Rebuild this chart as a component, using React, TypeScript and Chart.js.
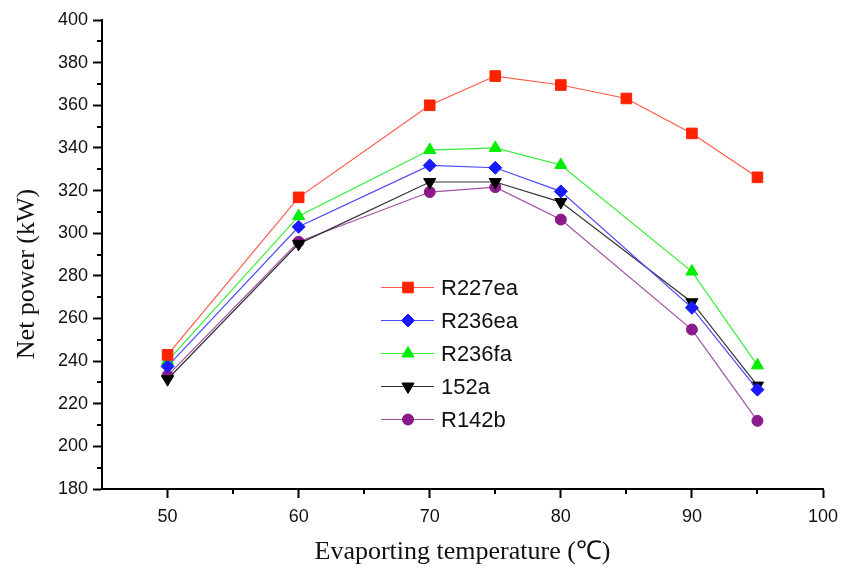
import React, { useEffect, useRef } from "react";
import { Chart, registerables } from "chart.js";
import { drawPoint } from "chart.js/helpers";

Chart.register(...registerables);

const TEMPS = [50, 60, 70, 75, 80, 85, 90, 95];
const TEMPS_OTHERS = [50, 60, 70, 75, 80, 90, 95];

const R227EA = [242.9, 316.8, 360, 373.7, 369.5, 363.2, 346.8, 326.2];
const R236EA = [237.5, 303, 331.8, 330.7, 319.6, 265, 226.6];
const R236FA = [240, 308, 339, 340, 332, 282, 238];
const R152A = [231.5, 295, 324, 324, 314.6, 267.6, 228.5];
const R142B = [233.2, 296, 319.3, 321.6, 306.4, 254.8, 212];

const LABELS = ["R227ea", "R236ea", "R236fa", "152a", "R142b"];
const X_TICKS = [50, 60, 70, 80, 90, 100];
const X_MINOR = [55, 65, 75, 85, 95];
const Y_TICKS = [180, 200, 220, 240, 260, 280, 300, 320, 340, 360, 380, 400];
const Y_MINOR = [190, 210, 230, 250, 270, 290, 310, 330, 350, 370, 390];

const X_TITLE = "Evaporting temperature (\u2103)";
const Y_TITLE = "Net power (kW)";

const SERIF = '"Liberation Serif", "Times New Roman", serif';
const SANS = '"Liberation Sans", Arial, sans-serif';

const pts = (xs: number[], ys: number[]) => xs.map((x, i) => ({ x, y: ys[i] }));

const minorTicks = {
  id: "minorTicks",
  afterDraw(chart: any) {
    const ctx = chart.ctx;
    const xs = chart.scales.x;
    const ys = chart.scales.y;
    const area = chart.chartArea;
    ctx.save();
    ctx.strokeStyle = "#000";
    ctx.lineWidth = 2;
    ctx.beginPath();
    X_MINOR.forEach((v) => {
      const px = Math.round(xs.getPixelForValue(v));
      ctx.moveTo(px, area.bottom);
      ctx.lineTo(px, area.bottom + 5);
    });
    Y_MINOR.forEach((v) => {
      const py = Math.round(ys.getPixelForValue(v));
      ctx.moveTo(area.left, py);
      ctx.lineTo(area.left - 5, py);
    });
    ctx.stroke();
    ctx.restore();
  },
};

const yTitle = {
  id: "yTitle",
  afterDraw(chart: any) {
    const ctx = chart.ctx;
    ctx.save();
    ctx.translate(27, 274);
    ctx.rotate(-Math.PI / 2);
    ctx.fillStyle = "#111";
    ctx.font = `26px ${SERIF}`;
    ctx.textAlign = "center";
    ctx.textBaseline = "middle";
    ctx.fillText(Y_TITLE, 0, 0);
    ctx.restore();
  },
};

const insideLegend = {
  id: "insideLegend",
  afterDraw(chart: any) {
    const ctx = chart.ctx;
    const x0 = 381;
    const x1 = 434;
    const xm = 408;
    const tx = 441;
    const y0 = 287.5;
    const dy = 33;
    ctx.save();
    chart.data.datasets.forEach((ds: any, i: number) => {
      const y = y0 + i * dy;
      ctx.strokeStyle = ds.borderColor;
      ctx.lineWidth = 1.2;
      ctx.beginPath();
      ctx.moveTo(x0, y);
      ctx.lineTo(x1, y);
      ctx.stroke();
      ctx.fillStyle = ds.pointBackgroundColor;
      ctx.strokeStyle = ds.pointBackgroundColor;
      ctx.lineWidth = 1;
      drawPoint(
        ctx,
        {
          pointStyle: ds.pointStyle,
          rotation: ds.pointRotation || 0,
          radius: ds.pointRadius,
          borderWidth: 1,
        } as any,
        xm,
        y
      );
      ctx.fillStyle = "#111";
      ctx.font = `22px ${SANS}`;
      ctx.textAlign = "left";
      ctx.textBaseline = "middle";
      ctx.fillText(LABELS[i], tx, y + 1);
    });
    ctx.restore();
  },
};

export default function App() {
  const ref = useRef<HTMLCanvasElement | null>(null);

  useEffect(() => {
    document.body.style.margin = "0";
    if (!ref.current) return;
    const mk = (
      label: string,
      data: any[],
      line: string,
      fill: string,
      style: string,
      radius: number,
      rot = 0
    ) => ({
      label,
      data,
      borderColor: line,
      borderWidth: 1.2,
      pointStyle: style,
      pointRadius: radius,
      pointRotation: rot,
      pointBackgroundColor: fill,
      pointBorderColor: fill,
      pointBorderWidth: 1,
      tension: 0,
      fill: false,
    });
    const chart = new Chart(ref.current, {
      type: "line",
      data: {
        datasets: [
          mk(LABELS[0], pts(TEMPS, R227EA), "#ff5a4a", "#ff2200", "rect", 7.5),
          mk(LABELS[1], pts(TEMPS_OTHERS, R236EA), "#4a4aff", "#1a1aff", "rectRot", 6.5),
          mk(LABELS[2], pts(TEMPS_OTHERS, R236FA), "#33ee33", "#00ee00", "triangle", 7),
          mk(LABELS[3], pts(TEMPS_OTHERS, R152A), "#333333", "#000000", "triangle", 7, 180),
          mk(LABELS[4], pts(TEMPS_OTHERS, R142B), "#a050a0", "#8b1a8b", "circle", 5.5),
        ] as any,
      },
      options: {
        animation: false,
        responsive: false,
        maintainAspectRatio: false,
        layout: { padding: { left: 0, right: 25, top: 20, bottom: 0 } },
        plugins: {
          legend: { display: false },
          tooltip: { enabled: false },
        },
        scales: {
          x: {
            type: "linear",
            min: 45,
            max: 100,
            afterBuildTicks: (s: any) => {
              s.ticks = X_TICKS.map((v) => ({ value: v }));
            },
            afterFit: (s: any) => {
              s.height = 79;
            },
            border: { display: true, color: "#000", width: 2 },
            grid: {
              drawOnChartArea: false,
              drawTicks: true,
              tickLength: 9,
              tickWidth: 2,
              tickColor: "#000",
            },
            ticks: {
              color: "#111",
              padding: 8,
              maxRotation: 0,
              font: { family: SANS, size: 18 },
            },
            title: {
              display: true,
              text: X_TITLE,
              color: "#111",
              padding: { top: 8, bottom: 0 },
              font: { family: SERIF, size: 26, weight: "normal" },
            },
          },
          y: {
            type: "linear",
            min: 180,
            max: 400,
            afterBuildTicks: (s: any) => {
              s.ticks = Y_TICKS.map((v) => ({ value: v }));
            },
            afterFit: (s: any) => {
              s.width = 102;
            },
            border: { display: true, color: "#000", width: 2 },
            grid: {
              drawOnChartArea: false,
              drawTicks: true,
              tickLength: 9,
              tickWidth: 2,
              tickColor: "#000",
            },
            ticks: {
              color: "#111",
              padding: 5,
              font: { family: SANS, size: 18 },
            },
            title: { display: false },
          },
        },
      } as any,
      plugins: [minorTicks, yTitle, insideLegend],
    });
    return () => chart.destroy();
  }, []);

  return (
    <div style={{ position: "absolute", left: 0, top: 0, width: 848, height: 568, background: "#fff" }}>
      <canvas ref={ref} width={848} height={568} style={{ width: 848, height: 568 }} />
    </div>
  );
}
